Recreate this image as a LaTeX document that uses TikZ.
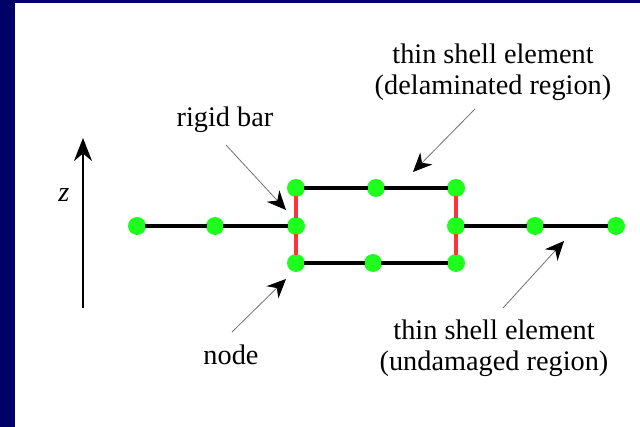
\documentclass[tikz,border=0pt]{standalone}
\usepackage{fontspec}
\setmainfont{Liberation Serif}
\usetikzlibrary{arrows.meta}
\definecolor{slidenavy}{RGB}{0,0,102}
\definecolor{nodegreen}{RGB}{30,255,30}
\definecolor{barred}{RGB}{255,51,51}
\tikzset{
    fenode/.style={circle, fill=nodegreen, inner sep=0pt, minimum size=18pt},
    shell/.style={draw=black, line width=4.5pt, shorten <=-1pt, shorten >=-1pt},
    rigid/.style={draw=barred, line width=4.5pt, shorten <=-1pt, shorten >=-1pt},
    pointer/.style={draw=black!55, line width=0.8pt, -{Stealth[black, length=19pt, width=17pt]}},
    label/.style={font=\fontsize{28.3}{31}\selectfont, align=center, inner sep=0pt},
}
\begin{document}
\begin{tikzpicture}[x=1pt, y=-1pt]
    \fill[slidenavy] (0,0) rectangle (640,427);
    \fill[white] (15,3) rectangle (640,427);
    % nodes
    \foreach \name/\px/\py in {l1/137/226, l2/215/226, l3/296/226,
                               t1/296/188, t2/376/188, t3/456/188,
                               b1/296/263, b2/373/263, b3/456/263,
                               r1/456/226, r2/535/226, r3/616/226} {
        \node[fenode] (\name) at (\px,\py) {};
    }
    % elements
    \draw[shell] (l1) -- (l2);
    \draw[shell] (l2) -- (l3);
    \draw[shell] (t1) -- (t2);
    \draw[shell] (t2) -- (t3);
    \draw[shell] (b1) -- (b2);
    \draw[shell] (b2) -- (b3);
    \draw[shell] (r1) -- (r2);
    \draw[shell] (r2) -- (r3);
    \draw[rigid] (t1) -- (l3);
    \draw[rigid] (l3) -- (b1);
    \draw[rigid] (t3) -- (r1);
    \draw[rigid] (r1) -- (b3);
    % axis
    \coordinate (zbot) at (83,308);
    \coordinate (ztop) at (83,138);
    \draw[line width=2.8pt, -{Stealth[length=23pt, width=18pt]}] (zbot) -- (ztop);
    \node[label, font=\fontsize{28.3}{31}\selectfont\itshape] (zlabel) at (64,195) {z};
    % labels
    \node[label] (rigidlabel) at (225,120) {rigid bar};
    \node[label] (nodelabel) at (231,355) {node};
    \node[label] (delamlabel) at (493,72) {thin shell element\\(delaminated region)};
    \node[label] (undamlabel) at (494,348) {thin shell element\\(undamaged region)};
    % pointers
    \coordinate (rigidfrom) at (226,145);
    \coordinate (rigidto) at (286,210);
    \coordinate (nodefrom) at (232,332);
    \coordinate (nodeto) at (286,279);
    \coordinate (delamfrom) at (475,109);
    \coordinate (delamto) at (413,172);
    \coordinate (undamfrom) at (503,308);
    \coordinate (undamto) at (564,241);
    \draw[pointer] (rigidfrom) -- (rigidto);
    \draw[pointer] (nodefrom) -- (nodeto);
    \draw[pointer] (delamfrom) -- (delamto);
    \draw[pointer] (undamfrom) -- (undamto);
\end{tikzpicture}
\end{document}
